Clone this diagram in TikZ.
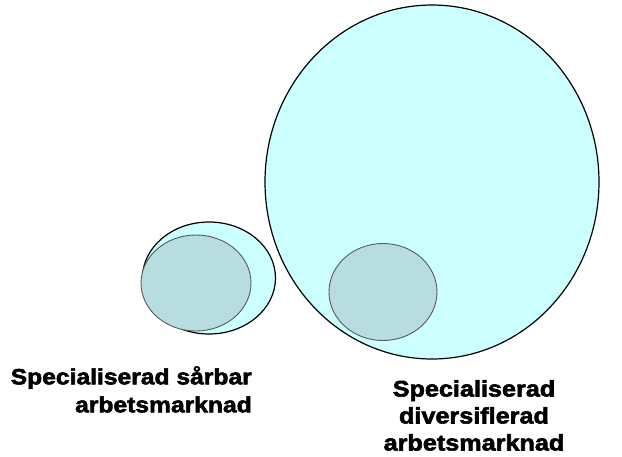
\documentclass[tikz,border=0pt]{standalone}
\usepackage{fontspec}
\usetikzlibrary{shapes.geometric}
\newfontfamily\lblfont[FakeStretch=1.12,BoldFeatures={FakeBold=2.5}]{Liberation Sans}
\definecolor{paleblue}{HTML}{CCFFFF}
\definecolor{greyblue}{HTML}{B8DDE0}

\tikzstyle{outer} = [ellipse, draw=black, line width=1.2pt, fill=paleblue, inner sep=0pt]
\tikzstyle{inner} = [ellipse, draw=black!65, line width=0.9pt, fill=greyblue, inner sep=0pt]
\tikzstyle{label} = [inner sep=0pt, font=\lblfont\bfseries\fontsize{22}{28}\selectfont]

\begin{document}
\begin{tikzpicture}[x=1pt, y=-1pt]
	\useasboundingbox (0,0) rectangle (622,456);
	\node[outer, minimum width=334pt, minimum height=354pt] (bigmarket) at (432,182) {};
	\node[inner, minimum width=108pt, minimum height=97pt] (bigcore) at (383,292) {};
	\node[outer, minimum width=133pt, minimum height=112pt] (smallmarket) at (209,278) {};
	\node[inner, minimum width=110pt, minimum height=96pt] (smallcore) at (196,283) {};
	\node[label, align=right, anchor=north east] (smalllabel) at (252,366) {Specialiserad sårbar\\arbetsmarknad};
	\node[label, align=center, anchor=north, font=\lblfont\bfseries\fontsize{22.5}{27}\selectfont] (biglabel) at (474,380) {Specialiserad\\diversiflerad\\arbetsmarknad};
\end{tikzpicture}
\end{document}
